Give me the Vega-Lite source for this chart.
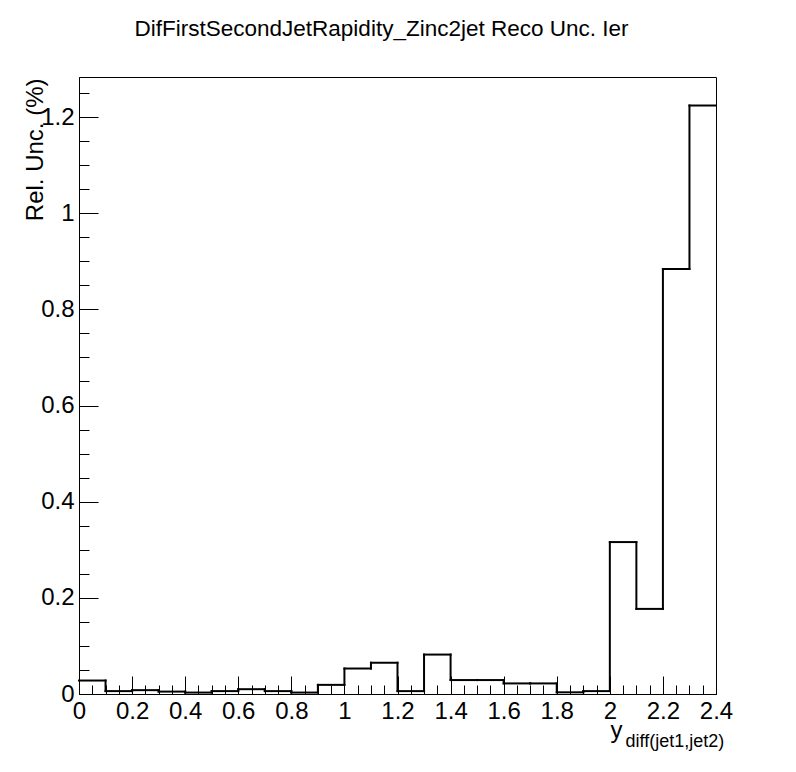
{
  "$schema": "https://vega.github.io/schema/vega-lite/v6.json",
  "width": 637,
  "height": 617,
  "autosize": {"type": "none"},
  "padding": {"left": 79, "top": 77, "right": 80, "bottom": 78},
  "background": "white",
  "config": {
    "view": {"stroke": "black", "strokeWidth": 1},
    "font": "Liberation Sans",
    "axis": {"grid": false, "domainColor": "black", "tickColor": "black", "labelColor": "black", "titleColor": "black", "titleFontWeight": "normal", "labelFont": "Liberation Sans", "titleFont": "Liberation Sans"}
  },
  "title": {
    "text": "DifFirstSecondJetRapidity_Zinc2jet Reco Unc. Ier",
    "font": "Liberation Sans",
    "fontSize": 22.5,
    "fontWeight": "normal",
    "color": "black",
    "anchor": "middle",
    "baseline": "alphabetic",
    "offset": 19,
    "dx": -16
  },
  "data": {
    "values": [
      {"lo": 0.0, "hi": 0.1, "v": 0.028},
      {"lo": 0.1, "hi": 0.2, "v": 0.006},
      {"lo": 0.2, "hi": 0.3, "v": 0.008},
      {"lo": 0.3, "hi": 0.4, "v": 0.005},
      {"lo": 0.4, "hi": 0.5, "v": 0.003},
      {"lo": 0.5, "hi": 0.6, "v": 0.006},
      {"lo": 0.6, "hi": 0.7, "v": 0.010},
      {"lo": 0.7, "hi": 0.8, "v": 0.006},
      {"lo": 0.8, "hi": 0.9, "v": 0.003},
      {"lo": 0.9, "hi": 1.0, "v": 0.019},
      {"lo": 1.0, "hi": 1.1, "v": 0.053},
      {"lo": 1.1, "hi": 1.2, "v": 0.065},
      {"lo": 1.2, "hi": 1.3, "v": 0.006},
      {"lo": 1.3, "hi": 1.4, "v": 0.082},
      {"lo": 1.4, "hi": 1.5, "v": 0.029},
      {"lo": 1.5, "hi": 1.6, "v": 0.029},
      {"lo": 1.6, "hi": 1.7, "v": 0.022},
      {"lo": 1.7, "hi": 1.8, "v": 0.022},
      {"lo": 1.8, "hi": 1.9, "v": 0.0035},
      {"lo": 1.9, "hi": 2.0, "v": 0.006},
      {"lo": 2.0, "hi": 2.1, "v": 0.316},
      {"lo": 2.1, "hi": 2.2, "v": 0.177},
      {"lo": 2.2, "hi": 2.3, "v": 0.884},
      {"lo": 2.3, "hi": 2.4, "v": 1.224}
    ]
  },
  "layer": [
    {
      "mark": {"type": "rule", "color": "black", "strokeWidth": 2, "strokeCap": "square"},
      "encoding": {
        "x": {
          "field": "lo", "type": "quantitative",
          "scale": {"domain": [0, 2.4], "nice": false, "zero": false},
          "axis": {
            "orient": "bottom",
            "values": [0, 0.2, 0.4, 0.6, 0.8, 1, 1.2, 1.4, 1.6, 1.8, 2, 2.2, 2.4],
            "format": "~g",
            "tickSize": -18,
            "labelPadding": 23,
            "labelFontSize": 24,
            "labelFlush": false,
            "labelOverlap": false,
            "title": "y",
            "titleFontSize": 24,
            "titleX": 531,
            "titleY": 43,
            "titleAlign": "left",
            "titleBaseline": "alphabetic",
            "titleAnchor": null
          }
        },
        "x2": {"field": "hi"},
        "y": {
          "field": "v", "type": "quantitative",
          "scale": {"domain": [0, 1.2833], "nice": false, "zero": false},
          "axis": {
            "orient": "left",
            "values": [0, 0.2, 0.4, 0.6, 0.8, 1, 1.2],
            "format": "~g",
            "tickSize": -19,
            "labelPadding": 24,
            "labelFontSize": 24,
            "labelFlush": false,
            "labelOverlap": false,
            "title": "Rel. Unc. (%)",
            "titleFontSize": 24,
            "titleX": -44,
            "titleY": 1,
            "titleAngle": 270,
            "titleAlign": "right",
            "titleBaseline": "middle",
            "titleAnchor": null
          }
        }
      }
    },
    {
      "transform": [
        {"window": [{"op": "lead", "field": "v", "as": "vn"}], "sort": [{"field": "lo"}]},
        {"filter": "datum.vn != null"}
      ],
      "mark": {"type": "rule", "color": "black", "strokeWidth": 2, "strokeCap": "square"},
      "encoding": {
        "x": {
          "field": "hi", "type": "quantitative",
          "scale": {"domain": [0, 2.4], "nice": false, "zero": false},
          "axis": {
            "orient": "bottom",
            "values": [0, 0.05, 0.1, 0.15, 0.2, 0.25, 0.3, 0.35, 0.4, 0.45, 0.5, 0.55, 0.6, 0.65, 0.7, 0.75, 0.8, 0.85, 0.9, 0.95, 1, 1.05, 1.1, 1.15, 1.2, 1.25, 1.3, 1.35, 1.4, 1.45, 1.5, 1.55, 1.6, 1.65, 1.7, 1.75, 1.8, 1.85, 1.9, 1.95, 2, 2.05, 2.1, 2.15, 2.2, 2.25, 2.3, 2.35, 2.4],
            "tickSize": -9,
            "labels": false,
            "domain": false,
            "title": "diff(jet1,jet2)",
            "titleFontSize": 18,
            "titleX": 546,
            "titleY": 52,
            "titleAlign": "left",
            "titleBaseline": "alphabetic",
            "titleAnchor": null
          }
        },
        "y": {
          "field": "v", "type": "quantitative",
          "scale": {"domain": [0, 1.2833], "nice": false, "zero": false},
          "axis": {
            "orient": "left",
            "values": [0, 0.05, 0.1, 0.15, 0.2, 0.25, 0.3, 0.35, 0.4, 0.45, 0.5, 0.55, 0.6, 0.65, 0.7, 0.75, 0.8, 0.85, 0.9, 0.95, 1, 1.05, 1.1, 1.15, 1.2, 1.25],
            "tickSize": -10,
            "labels": false,
            "domain": false,
            "title": null
          }
        },
        "y2": {"field": "vn"}
      }
    }
  ],
  "resolve": {"axis": {"x": "independent", "y": "independent"}}
}
